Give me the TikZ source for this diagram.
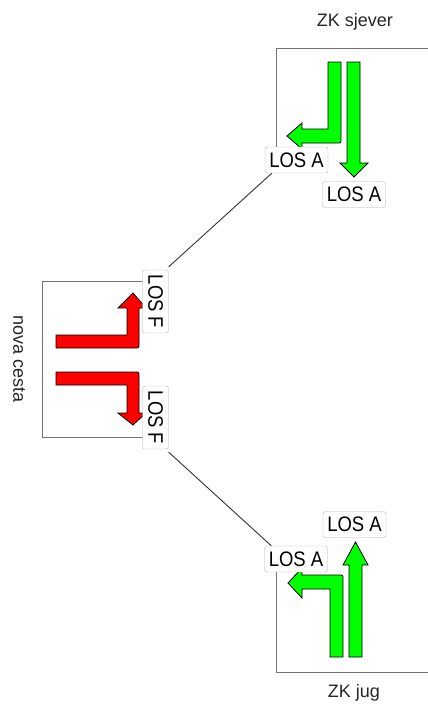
\documentclass[tikz,border=0pt]{standalone}
\usepackage{fontspec}
\setmainfont{Liberation Sans}
\newfontfamily\losfont[FakeStretch=0.88]{Liberation Sans}
\usetikzlibrary{positioning}

\tikzset{
  losbox/.style={draw=black!30, fill=white, rounded corners=2.5pt, inner sep=1pt,
    minimum width=63pt, minimum height=26pt, font=\losfont\fontsize{21}{22}\selectfont},
  zonetitle/.style={font=\fontsize{18}{20}\selectfont, text=black!85},
  zone/.style={draw=black!55, line width=1pt},
  link/.style={draw=black!80, line width=0.9pt},
  greenarrow/.style={fill=green, draw=black, line width=0.8pt},
  redarrow/.style={fill=red, draw=black, line width=0.8pt}
}

\begin{document}
\begin{tikzpicture}[x=1pt,y=-1pt]
\useasboundingbox (0,0) rectangle (428,705);

% zone outlines
\draw[zone] (276,160) -- (276,48) -- (428,48);
\draw[zone] (150,281) -- (42,281) -- (42,437) -- (150,437);
\draw[zone] (276,559) -- (276,672) -- (428,672);

% zone titles
\node[zonetitle] (sjever) at (355,22) {ZK sjever};
\node[zonetitle] (jug) at (354,693) {ZK jug};
\node[zonetitle, rotate=-90] (nova) at (19,359) {nova cesta};

% north approach
\draw[greenarrow] (328,62) -- (341,62) -- (341,139) .. controls (341,143) .. (337,143)
  -- (302,143) -- (302,149) -- (287,136) -- (302,123) -- (302,129) -- (328,129) -- cycle;
\draw[greenarrow] (347,62) -- (360,62) -- (360,163) -- (368,163) -- (354,177)
  -- (340,163) -- (347,163) -- cycle;

% south approach
\draw[greenarrow] (349,657) -- (362,657) -- (362,565) -- (368,565) -- (355.5,542)
  -- (343,565) -- (349,565) -- cycle;
\draw[greenarrow] (330,657) -- (343,657) -- (343,579) .. controls (343,575) .. (339,575)
  -- (302,575) -- (302,568) -- (288,583) -- (302,598) -- (302,589) -- (330,589) -- cycle;

% west approach
\draw[redarrow] (56,335) -- (127,335) -- (127,308) -- (118,308) -- (133,293)
  -- (146,308) -- (139,308) -- (139,344) .. controls (139,348) .. (135,348) -- (56,348) -- cycle;
\draw[redarrow] (56,372) -- (135,372) .. controls (139,372) .. (139,376) -- (139,413)
  -- (146,413) -- (133,425) -- (118,413) -- (127,413) -- (127,385) -- (56,385) -- cycle;

% level of service labels
\node[losbox] (losN1) at (296.5,160) {LOS A};
\node[losbox] (losN2) at (354,194.5) {LOS A};
\node[losbox] (losS1) at (296,559) {LOS A};
\node[losbox] (losS2) at (354.5,524.5) {LOS A};
\node[losbox, rotate=-90] (losW1) at (155.5,301.5) {LOS F};
\node[losbox, rotate=-90] (losW2) at (155.5,417.5) {LOS F};

% connectors
\draw[link] ([yshift=3pt]losW1.north west) -- ([xshift=7pt]losN1.south west);
\draw[link] ([yshift=-3pt]losW2.north east) -- ([xshift=7pt]losS1.north west);
\end{tikzpicture}
\end{document}
